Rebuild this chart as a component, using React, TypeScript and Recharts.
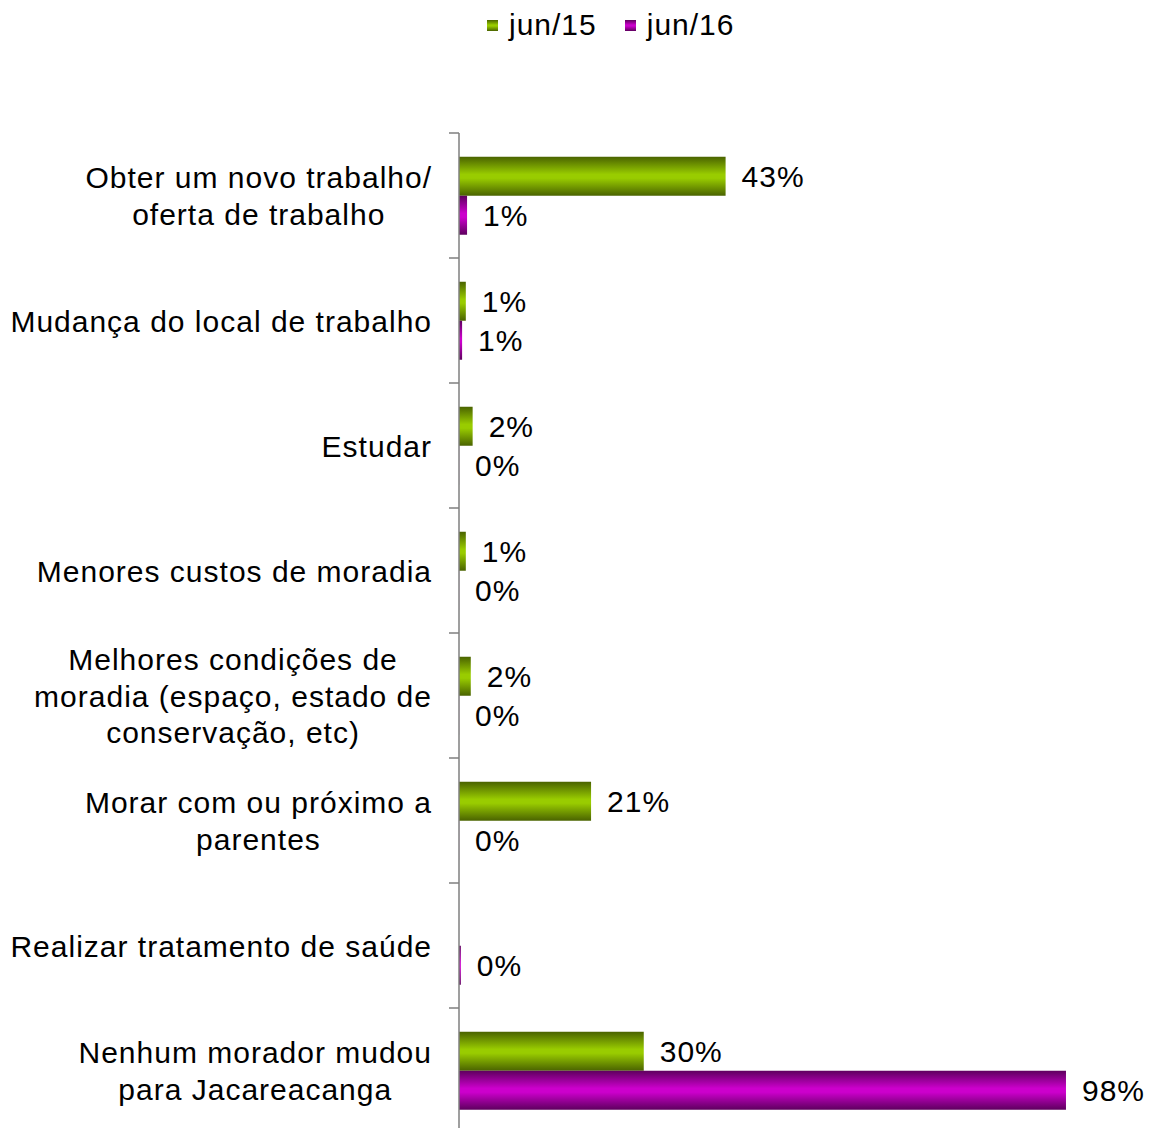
import { BarChart, Bar, XAxis, YAxis, LabelList, Legend } from "recharts";

const categories = [
  "Obter um novo trabalho/\noferta de trabalho",
  "Mudança do local de trabalho",
  "Estudar",
  "Menores custos de moradia",
  "Melhores condições de\nmoradia (espaço, estado de\nconservação, etc)",
  "Morar com ou próximo a\nparentes",
  "Realizar tratamento de saúde",
  "Nenhum morador mudou\npara Jacareacanga",
];
const jun15 = [43, 1.1, 2.2, 1.1, 1.9, 21.3, null, 29.8];
const jun16 = [1.3, 0.5, 0, 0, 0, 0, 0.3, 97.9];
const seriesNames = ["jun/15", "jun/16"];

const data = categories.map((name, i) => ({ name, jun15: jun15[i], jun16: jun16[i] }));

const FONT = "Liberation Sans, Arial, sans-serif";
const FS = 30;
const LS = 1;
const YAXIS_WIDTH = 459;
const HALF_BAND = 62.5;

let ctx: CanvasRenderingContext2D | null = null;
function textWidth(s: string) {
  if (!ctx) {
    ctx = document.createElement("canvas").getContext("2d");
  }
  if (!ctx) return s.length * 15;
  ctx.font = `${FS}px ${FONT}`;
  return ctx.measureText(s).width + s.length * LS;
}

function CategoryTick(props: any) {
  const { y, payload, index } = props;
  const lines: string[] = String(payload.value).split("\n");
  const maxW = Math.max(...lines.map(textWidth));
  const cx = YAXIS_WIDTH - 27 - maxW / 2;
  const lh = 36.5;
  const y0 = y - ((lines.length - 1) * lh) / 2;
  return (
    <g>
      <line x1={YAXIS_WIDTH - 10} x2={YAXIS_WIDTH} y1={y - HALF_BAND} y2={y - HALF_BAND} stroke="#7f7f7f" strokeWidth={1.5} />
      {index === categories.length - 1 && (
        <line x1={YAXIS_WIDTH - 10} x2={YAXIS_WIDTH} y1={y + HALF_BAND} y2={y + HALF_BAND} stroke="#7f7f7f" strokeWidth={1.5} />
      )}
      <text
        x={cx}
        y={y0}
        textAnchor="middle"
        dominantBaseline="central"
        fontSize={FS}
        letterSpacing={LS}
        fontFamily={FONT}
        fill="#000"
      >
        {lines.map((l, i) => (
          <tspan key={i} x={cx} dy={i === 0 ? 0 : lh}>
            {l}
          </tspan>
        ))}
      </text>
    </g>
  );
}

function LegendContent() {
  const items = [
    { name: seriesNames[0], fill: "url(#gGreen)" },
    { name: seriesNames[1], fill: "url(#gPurple)" },
  ];
  return (
    <div style={{ display: "flex", fontFamily: FONT, fontSize: FS, letterSpacing: LS, color: "#000", lineHeight: "34px" }}>
      {items.map((it) => (
        <div key={it.name} style={{ display: "flex", alignItems: "center", marginRight: 28 }}>
          <svg width={11} height={11} style={{ marginRight: 11 }}>
            <rect width={11} height={11} fill={it.fill} />
          </svg>
          <span>{it.name}</span>
        </div>
      ))}
    </div>
  );
}

const fmt = (v: any) => (v == null ? "" : `${Math.round(Number(v))}%`);

export default function App() {
  return (
    <div style={{ position: "fixed", top: 0, left: 0, width: 1149, height: 1128, overflow: "hidden", background: "#fff" }}>
      <svg width={0} height={0} style={{ position: "absolute" }}>
        <defs>
          <linearGradient id="gGreen" x1="0" y1="0" x2="0" y2="1">
            <stop offset="0%" stopColor="#4a6300" />
            <stop offset="45%" stopColor="#99cc00" />
            <stop offset="55%" stopColor="#99cc00" />
            <stop offset="100%" stopColor="#4a6300" />
          </linearGradient>
          <linearGradient id="gPurple" x1="0" y1="0" x2="0" y2="1">
            <stop offset="0%" stopColor="#5e005e" />
            <stop offset="45%" stopColor="#cc00cc" />
            <stop offset="55%" stopColor="#cc00cc" />
            <stop offset="100%" stopColor="#5e005e" />
          </linearGradient>
        </defs>
      </svg>
      <BarChart
        width={1149}
        height={1140}
        data={data}
        layout="vertical"
        margin={{ top: 133, right: 8, bottom: 7, left: 0 }}
        barCategoryGap="19%"
        barGap={0}
      >
        <XAxis type="number" domain={[0, 110]} hide />
        <YAxis
          type="category"
          dataKey="name"
          width={YAXIS_WIDTH}
          axisLine={{ stroke: "#7f7f7f", strokeWidth: 1.5 }}
          tickLine={false}
          tick={<CategoryTick />}
          interval={0}
        />
        <Legend
          verticalAlign="middle"
          align="center"
          content={<LegendContent />}
          wrapperStyle={{ top: 8, left: 487, width: "auto" }}
        />
        <Bar dataKey="jun15" name={seriesNames[0]} fill="url(#gGreen)" isAnimationActive={false}>
          <LabelList dataKey="jun15" position="right" offset={16} formatter={fmt} fontSize={FS} letterSpacing={LS} fontFamily={FONT} fill="#000" />
        </Bar>
        <Bar dataKey="jun16" name={seriesNames[1]} fill="url(#gPurple)" minPointSize={0.1} isAnimationActive={false}>
          <LabelList dataKey="jun16" position="right" offset={16} formatter={fmt} fontSize={FS} letterSpacing={LS} fontFamily={FONT} fill="#000" />
        </Bar>
      </BarChart>
    </div>
  );
}
